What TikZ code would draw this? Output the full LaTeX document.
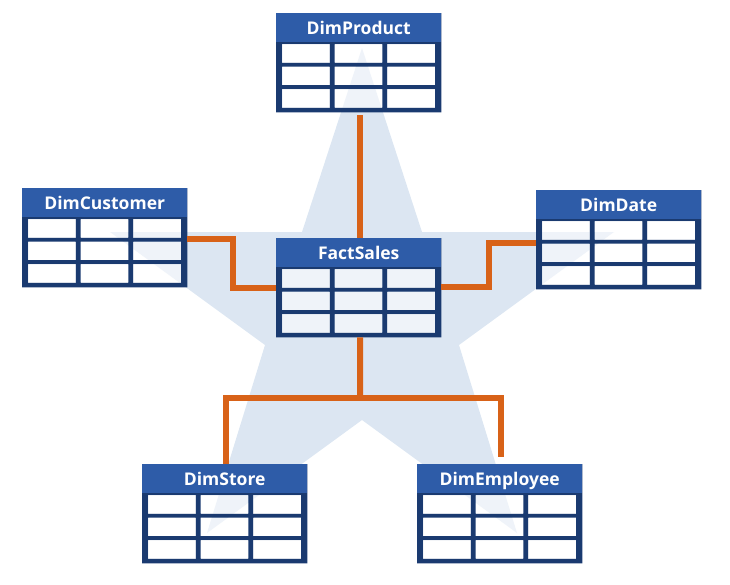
\documentclass[tikz,border=0pt]{standalone}
\usepackage{fontspec}
\setmainfont{Open Sans}
\usetikzlibrary{calc}
\definecolor{starblue}{RGB}{220,230,242}
\definecolor{headblue}{RGB}{46,92,168}
\definecolor{gridnavy}{RGB}{26,58,112}
\definecolor{connorange}{RGB}{216,98,24}
\tikzset{
  tabframe/.style={rectangle, draw=none, minimum width=165pt, minimum height=99pt, inner sep=0pt, anchor=north west},
  tabhead/.style={rectangle, fill=headblue, minimum width=165pt, minimum height=29pt, inner sep=0pt, anchor=north west,
    text=white, font=\fontsize{17.5}{18}\selectfont\bfseries, text height=15.5pt, text depth=1pt},
  cellfill/.style={fill=white, fill opacity=0.55},
  conn/.style={draw=connorange, line width=6pt},
}
\newcommand{\dimtab}[4]{%
  \node[tabframe] (#1) at (#2,#3) {};
  \fill[gridnavy, even odd rule] (#1.north west) rectangle (#1.south east)
    \foreach \ci in {0,1,2}{\foreach \rj in {0,1,2}{
      ($(#1.north west)+(6+\ci*52.67, 31+\rj*22.5)$) rectangle ++(47.67,18.5)
    }};
  \foreach \ci in {0,1,2}{\foreach \rj in {0,1,2}{
    \fill[cellfill] ($(#1.north west)+(6+\ci*52.67, 31+\rj*22.5)$) rectangle ++(47.67,18.5);
  }}%
  \node[tabhead] (#1-h) at (#2,#3) {#4};
}
\begin{document}
\begin{tikzpicture}[x=1pt,y=-1pt]
\useasboundingbox (0,0) rectangle (730,584);
% star
\fill[starblue] (362,48) -- (422,232) -- (614,232) -- (459,345) -- (517,533) -- (362,420)
  -- (207,533) -- (265,345) -- (110,232) -- (302,232) -- cycle;
% tables
\dimtab{prod}{276}{13}{DimProduct}
\dimtab{cust}{22}{188}{DimCustomer}
\dimtab{fact}{276}{238}{FactSales}
\dimtab{date}{536}{190}{DimDate}
\dimtab{store}{142}{464}{DimStore}
\dimtab{emp}{417}{464}{DimEmployee}
% connectors
\coordinate (jc) at (233,239);
\coordinate (jd) at (489,287);
\coordinate (js) at (360,398);
\coordinate (ee) at (501,457);
\draw[conn] ($(prod.south)+(1.5,3)$) -- ($(fact.north)+(1.5,0)$);
\draw[conn] ($(cust.north east)+(0,51)$) -- (jc) |- ($(fact.north west)+(0,50)$);
\draw[conn] ($(fact.north east)+(0,49)$) -| (jd) |- ($(date.north west)+(0,53)$);
\draw[conn] ($(fact.south)+(1.5,0)$) -- (js);
\draw[conn] ($(store.north)+(1,0)$) |- (js) -| (ee);
\end{tikzpicture}
\end{document}
